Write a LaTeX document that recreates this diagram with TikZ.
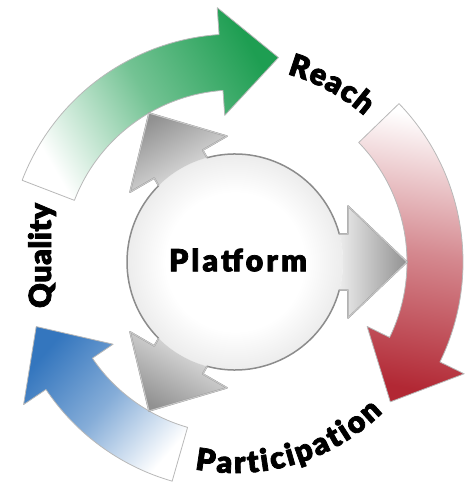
\documentclass[tikz,border=0pt]{standalone}
\usepackage{fontspec}
\newfontfamily\lblfont{Lato Black}[FakeBold=2.4]
\newcommand\lbl{\lblfont\fontsize{30.5pt}{30.5pt}\selectfont}
\usetikzlibrary{decorations.text}
\definecolor{gH}{RGB}{30,158,82}
\definecolor{rH}{RGB}{178,40,52}
\definecolor{bH}{RGB}{52,118,190}
\definecolor{grayTip}{RGB}{145,145,145}
\definecolor{grayBase}{RGB}{236,236,236}
\pgfdeclareradialshading{platshade}{\pgfpoint{0bp}{0bp}}{color(0bp)=(white); color(16bp)=(white); color(50bp)=(black!28)}
\tikzset{
  ringedge/.style={draw=black!28, line width=0.8pt, line join=round},
  platedge/.style={draw=black!45, line width=1.5pt, line join=round},
  arrowedge/.style={draw=black!22, line width=1.1pt, line join=round},
  labeltext/.style={decorate, decoration={text along path, text align={fit to path}}}
}
\begin{document}
\begin{tikzpicture}[x=1pt,y=1pt]
\useasboundingbox (0,0) rectangle (475,483);
\begin{scope}[shift={(235,221)}]
  % green ring arrow (Quality -> Reach)
  \shadedraw[ringedge, top color=gH, bottom color=white, middle color=gH!62, shading angle=-60]
    (159:228) arc[start angle=159, end angle=94, radius=228]
    -- (94:255) -- (78:209) -- (94:147) -- (94:172)
    arc[start angle=94, end angle=159, radius=172] -- cycle;
  % red ring arrow (Reach -> Participation)
  \shadedraw[ringedge, top color=white, bottom color=rH, middle color=rH!55, shading angle=-10]
    (44:228) arc[start angle=44, end angle=-26, radius=228]
    -- (-26:255) -- (-42:209) -- (-26:147) -- (-26:172)
    arc[start angle=-26, end angle=44, radius=172] -- cycle;
  % blue ring arrow (Participation -> Quality)
  \shadedraw[ringedge, top color=bH, bottom color=white, middle color=bH!60, shading angle=49]
    (254:228) arc[start angle=254, end angle=214, radius=228]
    -- (214:255) -- (198:209) -- (214:147) -- (214:172)
    arc[start angle=214, end angle=254, radius=172] -- cycle;

  % platform circle
  \shade[shading=platshade] (0,0) circle[radius=108];
  % platform arrows
  \foreach \a/\s in {0/-90, 120/30, 240/150}{
    \shade[top color=grayTip, bottom color=grayBase, shading angle=\s]
      ({\a-15.03}:108) -- ({\a-13.92}:116.42) -- ({\a-26.37}:126.11) -- (\a:172)
      -- ({\a+26.37}:126.11) -- ({\a+13.92}:116.42) -- ({\a+15.03}:108)
      arc[start angle={\a+15.03}, end angle={\a-15.03}, radius=108] -- cycle;
  }
  % outline of the platform
  \path[platedge] (-15.03:108)
    -- (-13.92:116.42) -- (-26.37:126.11) -- (0:172) -- (26.37:126.11) -- (13.92:116.42) -- (15.03:108)
    arc[start angle=15.03, end angle=104.97, radius=108]
    -- (106.08:116.42) -- (93.63:126.11) -- (120:172) -- (146.37:126.11) -- (133.92:116.42) -- (135.03:108)
    arc[start angle=135.03, end angle=224.97, radius=108]
    -- (226.08:116.42) -- (213.63:126.11) -- (240:172) -- (266.37:126.11) -- (253.92:116.42) -- (255.03:108)
    arc[start angle=255.03, end angle=344.97, radius=108] -- cycle;
  \foreach \a in {0,120,240}{
    \path[arrowedge] ({\a-15.03}:108) -- ({\a-13.92}:116.42) -- ({\a-26.37}:126.11) -- (\a:172)
      -- ({\a+26.37}:126.11) -- ({\a+13.92}:116.42) -- ({\a+15.03}:108);
  }

  % labels
  \node (platform) at (3,2) {\lbl\addfontfeature{LetterSpace=10}Platform};
  \path[labeltext, decoration={text={|\lbl|Reach}}]
    (74.5:195) arc[start angle=74.5, end angle=48.5, radius=195];
  \path[labeltext, decoration={text={|\lbl|Participation}}]
    (-101:211) arc[start angle=-101, end angle=-45.5, radius=211];
  \path[labeltext, decoration={text={|\lbl|Quality}}]
    (-184,-46) -- (-184,59);
\end{scope}
\end{tikzpicture}
\end{document}
